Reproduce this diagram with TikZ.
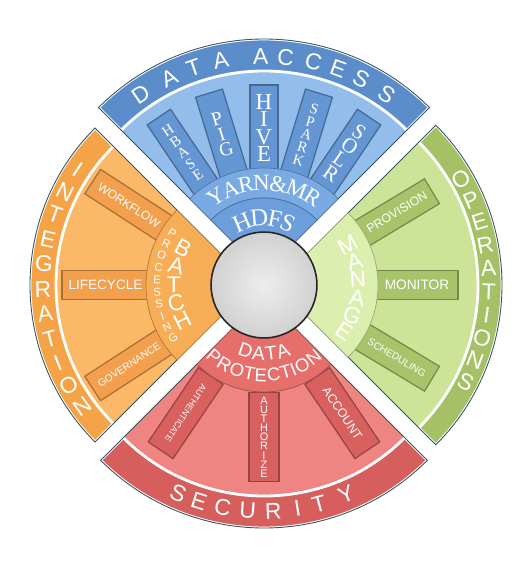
\documentclass[tikz,border=0pt]{standalone}
\usepackage{fontspec}
\setmainfont{Liberation Sans}
\newfontfamily\romanface{Liberation Serif}

\definecolor{accessband}{HTML}{5B8DCB}
\definecolor{accessbody}{HTML}{93BDEB}
\definecolor{accessbox}{HTML}{6496D3}
\definecolor{accessring}{HTML}{7AAAE3}
\definecolor{accesshdfs}{HTML}{6C9EDB}
\definecolor{integband}{HTML}{F4A347}
\definecolor{integbody}{HTML}{FBB867}
\definecolor{integbox}{HTML}{F2A04D}
\definecolor{integring}{HTML}{F8AE56}
\definecolor{operband}{HTML}{A6C165}
\definecolor{operbody}{HTML}{CDE498}
\definecolor{operbox}{HTML}{A8C369}
\definecolor{operring}{HTML}{DDEFAF}
\definecolor{secuband}{HTML}{D65F5D}
\definecolor{secubody}{HTML}{EE8582}
\definecolor{secubox}{HTML}{D8605E}
\definecolor{securing}{HTML}{E66F6C}
\definecolor{rimline}{HTML}{35535F}

% annular wedge: start angle, end angle, inner radius, outer radius
\newcommand\wedgeat[4]{(#1:#3) arc[start angle=#1,end angle=#2,radius=#3] -- (#2:#4) arc[start angle=#2,end angle=#1,radius=#4] -- cycle}

\begin{document}
\begin{tikzpicture}[x=0.02cm,y=0.02cm,
    rim/.style={draw=rimline,line width=0.5pt},
    band/.style={fill=#1,draw=white,line width=1.6pt},
    ring/.style={fill=#1,draw=#1!70!black,line width=0.4pt},
    colbox/.style={fill=#1,draw=#1!70!black,line width=0.7pt,inner sep=0pt,text=white,align=center},
    bigletter/.style={text=white,inner sep=0pt,font=\fontsize{13}{13}\selectfont},
    hub/.style={circle,draw=black!85,line width=0.9pt,inner color=black!7,outer color=black!18,minimum size=60.3pt}]
  \useasboundingbox (-264,-294) rectangle (259,285);

  % data access
  \begin{scope}[shift={(0,12)}]
    \fill[accessbody] \wedgeat{45}{135}{38}{234};
    \filldraw[band=accessband] \wedgeat{45}{135}{202}{234};
    \draw[rim] \wedgeat{45}{135}{38}{234};
    \node[colbox=accessbox,rotate=34,minimum width=16pt,minimum height=49pt,font=\romanface\fontsize{8.5}{7.6}\selectfont] (hbase) at (124:145) {H\\B\\A\\S\\E};
    \node[colbox=accessbox,rotate=17,minimum width=16pt,minimum height=49pt,font=\romanface\fontsize{11}{9}\selectfont] (pig) at (107:145) {P\\I\\G};
    \node[colbox=accessbox,rotate=0,minimum width=16pt,minimum height=49pt,font=\romanface\fontsize{13}{9.7}\selectfont] (hive) at (90:145) {H\\I\\V\\E};
    \node[colbox=accessbox,rotate=-17,minimum width=16pt,minimum height=49pt,font=\romanface\fontsize{8.5}{7.6}\selectfont] (spark) at (73:145) {S\\P\\A\\R\\K};
    \node[colbox=accessbox,rotate=-34,minimum width=16pt,minimum height=49pt,font=\romanface\fontsize{12}{9.5}\selectfont] (solr) at (56:145) {S\\O\\L\\R};
    \filldraw[ring=accessring] \wedgeat{45}{135}{75}{105};
    \filldraw[ring=accesshdfs] \wedgeat{45}{135}{38}{75};
    \foreach \ch/\a [count=\i] in {D/124.6,A/115.9,T/108.9,A/101.5,A/90.9,C/84.3,C/76.8,E/70,S/63.4,S/55.6}
      \node[bigletter,rotate=\a-90] (access-\i) at (\a:217) {\ch};
    \foreach \ch/\a [count=\i] in {Y/122.3,A/111.8,R/101.7,N/91.6,\&/80.7,M/68.6,R/57.3}
      \node[bigletter,rotate=\a-90,font=\romanface\fontsize{13}{13}\selectfont] (yarn-\i) at (\a:90) {\ch};
    \foreach \ch/\a [count=\i] in {H/113.5,D/95,F/78.6,S/64.4}
      \node[bigletter,rotate=\a-90,font=\romanface\fontsize{14}{14}\selectfont] (hdfs-\i) at (\a:55) {\ch};
  \end{scope}

  % integration
  \begin{scope}[shift={(-12,0)}]
    \fill[integbody] \wedgeat{135}{225}{38}{222};
    \filldraw[band=integband] \wedgeat{135}{225}{196}{222};
    \draw[rim] \wedgeat{135}{225}{38}{222};
    \node[colbox=integbox,rotate=-33,minimum width=49.5pt,minimum height=16.5pt,font=\fontsize{6.8}{7}\selectfont] (workflow) at (147:146.5) {WORKFLOW};
    \node[colbox=integbox,rotate=0,minimum width=49.5pt,minimum height=16.5pt,font=\fontsize{7.7}{8}\selectfont] (lifecycle) at (180:146.5) {LIFECYCLE};
    \node[colbox=integbox,rotate=33,minimum width=49.5pt,minimum height=16.5pt,font=\fontsize{5.8}{6}\selectfont] (governance) at (213:146.5) {GOVERNANCE};
    \filldraw[ring=integring] \wedgeat{135}{225}{38}{106};
    \foreach \ch [count=\i] in {I,N,T,E,G,R,A,T,I,O,N} {
      \pgfmathsetmacro\a{146.6+6.9*(\i-1)}
      \node[bigletter,rotate=\a-180] (integ-\i) at (\a:209) {\ch};
    }
    \foreach \ch [count=\i] in {B,A,T,C,H} {
      \pgfmathsetmacro\a{152+13.75*(\i-1)}
      \node[bigletter,rotate=\a-180] (batch-\i) at (\a:78) {\ch};
    }
    \foreach \ch [count=\i] in {P,R,O,C,E,S,S,I,N,G} {
      \pgfmathsetmacro\a{147+7.44*(\i-1)}
      \node[bigletter,rotate=\a-180,font=\fontsize{6.5}{6.5}\selectfont] (proc-\i) at (\a:95) {\ch};
    }
  \end{scope}

  % operations
  \begin{scope}[shift={(12,0)}]
    \fill[operbody] \wedgeat{-45}{45}{38}{226};
    \filldraw[band=operband] \wedgeat{-45}{45}{202}{226};
    \draw[rim] \wedgeat{-45}{45}{38}{226};
    \node[colbox=operbox,rotate=31,minimum width=46.7pt,minimum height=16.5pt,font=\fontsize{7}{7}\selectfont] (provision) at (31:141) {PROVISION};
    \node[colbox=operbox,rotate=0,minimum width=46.7pt,minimum height=16.5pt,font=\fontsize{7.8}{8}\selectfont] (monitor) at (0:141) {MONITOR};
    \node[colbox=operbox,rotate=-31,minimum width=46.7pt,minimum height=16.5pt,font=\fontsize{5.7}{6}\selectfont] (scheduling) at (-31:141) {SCHEDULING};
    \filldraw[ring=operring] \wedgeat{-45}{45}{38}{102};
    \foreach \ch [count=\i] in {O,P,E,R,A,T,I,O,N,S} {
      \pgfmathsetmacro\a{29.8-6.32*(\i-1)}
      \node[bigletter,rotate=\a] (oper-\i) at (\a:213) {\ch};
    }
    \foreach \ch [count=\i] in {M,A,N,A,G,E} {
      \pgfmathsetmacro\a{29-12.6*(\i-1)}
      \node[bigletter,rotate=\a] (manage-\i) at (\a:82) {\ch};
    }
  \end{scope}

  % security
  \begin{scope}[shift={(0,-12)}]
    \fill[secubody] \wedgeat{225}{315}{38}{231};
    \filldraw[band=secuband] \wedgeat{225}{315}{199}{231};
    \draw[rim] \wedgeat{225}{315}{38}{231};
    \node[colbox=secubox,rotate=236,minimum width=51pt,minimum height=17pt,font=\fontsize{5}{5}\selectfont] (authenticate) at (236:140) {AUTHENTICATE};
    \node[colbox=secubox,rotate=0,minimum width=17pt,minimum height=51pt,font=\fontsize{6.2}{5.2}\selectfont] (authorize) at (270:140) {A\\U\\T\\H\\O\\R\\I\\Z\\E};
    \node[colbox=secubox,rotate=304,minimum width=51pt,minimum height=17pt,font=\fontsize{7}{7}\selectfont] (account) at (304:140) {ACCOUNT};
    \filldraw[ring=securing] \wedgeat{225}{315}{38}{95};
    \foreach \ch/\a [count=\i] in {S/246.4,E/252.3,C/258.9,U/265.6,R/272.5,I/279,T/284.9,Y/292.6}
      \node[bigletter,rotate=\a-270] (secu-\i) at (\a:214) {\ch};
    \foreach \ch/\a [count=\i] in {D/251.1,A/264.7,T/277,A/289.4}
      \node[bigletter,rotate=\a-270,font=\fontsize{11}{11}\selectfont] (data-\i) at (\a:57) {\ch};
    \foreach \ch/\a [count=\i] in {P/230.1,R/239.5,O/249.7,T/259.1,E/267.7,C/277.1,T/286.2,I/292.2,O/299.4,N/309.5}
      \node[bigletter,rotate=\a-270,font=\fontsize{10.5}{10.5}\selectfont] (prot-\i) at (\a:78) {\ch};
  \end{scope}

  \node[hub] (hub) at (0,0) {};
\end{tikzpicture}
\end{document}
